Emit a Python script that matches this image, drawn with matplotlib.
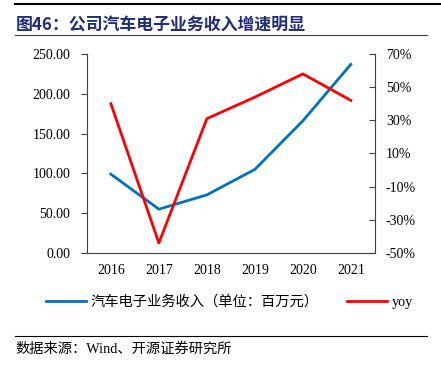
import matplotlib
matplotlib.use('Agg')
import matplotlib.pyplot as plt
from matplotlib.lines import Line2D
from matplotlib.ticker import FuncFormatter

plt.rcParams['font.family'] = ['Liberation Serif', 'Noto Sans CJK SC']

years = ['2016', '2017', '2018', '2019', '2020', '2021']
revenue = [99, 55, 73, 105, 166, 237]          # 百万元
yoy = [40, -44, 31, 44, 58, 42]                # %

fig = plt.figure(figsize=(4.41, 3.65), dpi=100)
ax = fig.add_axes([0.197, 0.307, 0.653, 0.545])
ax2 = ax.twinx()

x = range(len(years))
ax.plot(x, revenue, color='#0070C0', lw=2)
ax2.plot(x, yoy, color='#FF0000', lw=2)

ax.set_xlim(-0.5, len(years) - 0.5)
ax.set_ylim(0, 250)
ax.set_yticks(range(0, 251, 50))
ax.yaxis.set_major_formatter(FuncFormatter(lambda v, p: f'{v:.2f}'))
ax.set_xticks(list(x))
ax.set_xticklabels(years)
ax2.set_ylim(-50, 70)
ax2.set_yticks(range(-50, 71, 20))
ax2.yaxis.set_major_formatter(FuncFormatter(lambda v, p: f'{v:.0f}%'))

for a in (ax, ax2):
    a.spines['top'].set_visible(False)
    for s in a.spines.values():
        s.set_color('#404040')
        s.set_linewidth(0.8)
    a.tick_params(labelsize=10, color='#404040', length=4, width=0.8)
ax.spines['right'].set_visible(False)
ax2.spines['left'].set_visible(False)
ax2.spines['bottom'].set_visible(False)
ax.tick_params(axis='x', length=0, pad=8)
ax2.tick_params(axis='y', direction='in', pad=8)
ax.tick_params(axis='y', pad=8)

# 标题
fig.text(0.036, 0.93, '图46：公司汽车电子业务收入增速明显', fontsize=12.2,
         fontweight='bold', color='#1F2D7A', family=['Noto Sans CJK SC'], va='center')
fig.add_artist(Line2D([0.034, 0.998], [0.99, 0.99], color='black', lw=1.5))
fig.add_artist(Line2D([0.034, 0.968], [0.905, 0.905], color='#404040', lw=0.8))

# 图例
h1 = Line2D([], [], color='#0070C0', lw=2)
h2 = Line2D([], [], color='#FF0000', lw=2)
fig.legend([h1, h2], ['汽车电子业务收入（单位：百万元）', 'yoy'], loc='center',
           bbox_to_anchor=(0.52, 0.172), ncol=2, frameon=False,
           handlelength=2.8, columnspacing=2.0, handletextpad=0.3,
           prop={'family': ['Liberation Serif', 'Noto Sans CJK SC'], 'size': 10.3})

# 来源
fig.add_artist(Line2D([0.034, 0.968], [0.08, 0.08], color='black', lw=0.8))
fig.text(0.036, 0.045, '数据来源：Wind、开源证券研究所', fontsize=10.3, va='center')

fig.savefig('out.png', dpi=100)
